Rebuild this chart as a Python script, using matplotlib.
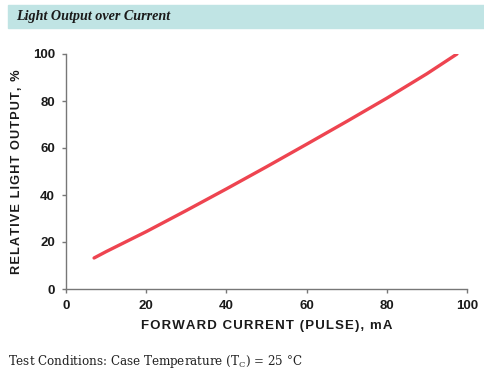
import matplotlib.pyplot as plt
from matplotlib.patches import Rectangle

# forward current (mA) vs relative light output (%)
current = [7, 10, 20, 30, 40, 50, 60, 70, 80, 90, 97.5]
light = [13.2, 15.9, 24.4, 33.4, 42.6, 52.0, 61.6, 71.3, 81.2, 91.6, 100.0]
xticks = [0, 20, 40, 60, 80, 100]
yticks = [0, 20, 40, 60, 80, 100]

plt.rcParams['font.family'] = ['Liberation Sans', 'DejaVu Sans']

fig = plt.figure(figsize=(4.84, 3.75), dpi=100)
fig.patches.append(Rectangle((8 / 484, 1 - 28 / 375), 476 / 484, 23 / 375,
                             transform=fig.transFigure, color='#c0e4e4', zorder=0))
fig.text(16 / 484, 1 - 16.5 / 375, 'Light Output over Current', family=['Liberation Serif', 'DejaVu Serif'],
         style='italic', weight='bold', fontsize=10.2, va='center', color='#1a1a1a')

ax = fig.add_axes([66 / 484, 1 - 289 / 375, 401 / 484, 235 / 375])
ax.plot(current, light, color='#ee4450', lw=2.4, solid_capstyle='round')
ax.set_xlim(0, 100)
ax.set_ylim(0, 100)
ax.set_xticks(xticks)
ax.set_yticks(yticks)
for s in ['top', 'right']:
    ax.spines[s].set_visible(False)
for s in ['left', 'bottom']:
    ax.spines[s].set_color('#777777')
    ax.spines[s].set_linewidth(1.0)
ax.tick_params(colors='#777777', length=3, width=1, labelcolor='#1a1a1a', labelsize=9.5, pad=5)
for lbl in ax.get_xticklabels() + ax.get_yticklabels():
    lbl.set_fontweight('bold')

sp = '\u200a'
ax.set_xlabel(sp.join('FORWARD CURRENT (PULSE), mA'), fontsize=9.5, weight='bold', color='#1a1a1a', labelpad=6)
ax.set_ylabel(sp.join('RELATIVE LIGHT OUTPUT, %'), fontsize=9.2, weight='bold', color='#1a1a1a', labelpad=7)

fig.text(8 / 484, 1 - 362 / 375, 'Test Conditions: Case Temperature (T$_\\mathregular{C}$) = 25 °C',
         family=['DejaVu Serif'], fontsize=8.6, va='center', color='#222222')

fig.savefig('out.png', dpi=100)
